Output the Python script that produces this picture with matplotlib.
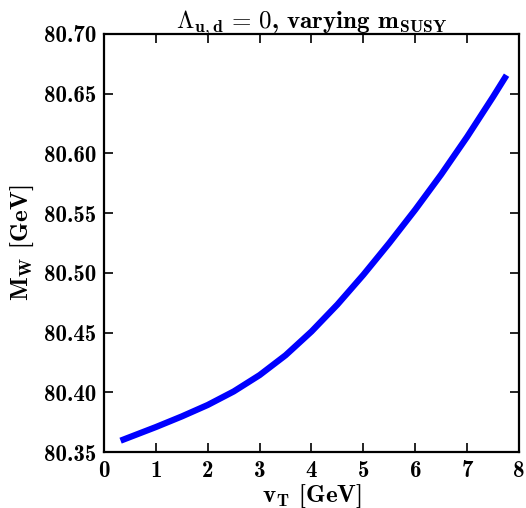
import matplotlib
matplotlib.use("Agg")
import matplotlib.pyplot as plt

# values
v_T = [0.32, 1.0, 1.5, 2.0, 2.5, 3.0, 3.5, 4.0, 4.5, 5.0, 5.5, 6.0,
       6.5, 7.0, 7.5, 7.76]
M_W = [80.3595, 80.3709, 80.3798, 80.3894, 80.4007, 80.4144, 80.4310,
       80.4509, 80.4735, 80.4984, 80.5250, 80.5529, 80.5824, 80.6139,
       80.6474, 80.6655]

xticks = [0, 1, 2, 3, 4, 5, 6, 7, 8]
yticks = [80.35, 80.40, 80.45, 80.50, 80.55, 80.60, 80.65, 80.70]

plt.rcParams['font.family'] = 'cmb10'
plt.rcParams['mathtext.fontset'] = 'cm'
plt.rcParams['axes.unicode_minus'] = False

fig = plt.figure(figsize=(5.26, 5.08), dpi=100)
ax = fig.add_axes([0.1977, 0.1102, 0.789, 0.8229])

ax.plot(v_T, M_W, color='#0000ff', lw=4.5, solid_capstyle='butt')

ax.set_xlim(0, 8)
ax.set_ylim(80.35, 80.70)
ax.set_xticks(xticks)
ax.set_yticks(yticks)
ax.set_xticklabels([str(t) for t in xticks])
ax.set_yticklabels(['%.2f' % t for t in yticks])

ax.tick_params(direction='in', length=6.3, width=1.2, top=True, right=True,
               labelsize=16.5, pad=5.5)
for s in ax.spines.values():
    s.set_linewidth(1.6)

ax.set_xlabel(r'$\mathbf{v_T}$ [GeV]', fontsize=18, labelpad=0.5)
ax.set_ylabel(r'$\mathbf{M_W}$ [GeV]', fontsize=18, labelpad=6)
ax.set_title(r'$\Lambda_{\mathbf{u,d}}\,=\,\mathbf{0}$, varying $\mathbf{m_{SUSY}}$',
             fontsize=18, pad=4)

fig.savefig('out.png', dpi=100)
